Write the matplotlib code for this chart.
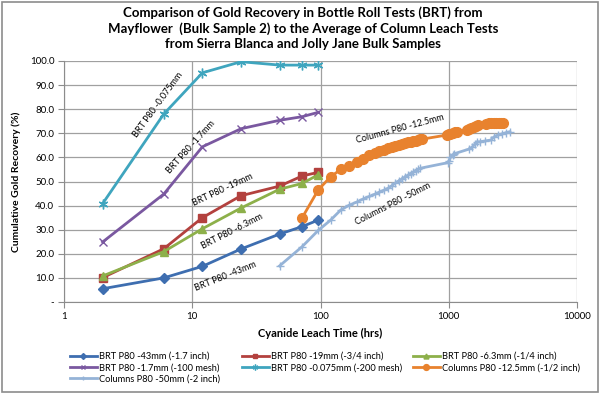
import numpy as np
import matplotlib
matplotlib.use("Agg")
import matplotlib.pyplot as plt
from matplotlib.patches import Rectangle
from matplotlib.ticker import FixedLocator, FuncFormatter, NullLocator

plt.rcParams['font.family'] = ['Lato', 'DejaVu Sans']

# --- Data ---
brt_hours = [2, 6, 12, 24, 48, 72, 96]
brt_43mm = [5.5, 10.0, 14.8, 22.0, 28.2, 31.3, 34.0]
brt_19mm = [10.1, 22.1, 35.0, 44.1, 48.1, 52.3, 53.8]
brt_6mm = [10.8, 20.9, 30.4, 39.0, 46.8, 49.2, 52.8]
brt_1_7mm = [24.9, 44.8, 64.4, 71.9, 75.4, 76.9, 78.7]
brt_0075mm = [40.8, 78.0, 95.1, 99.7, 98.3, 98.3, 98.3]

col12_hours = [72, 96, 120, 144, 168, 192, 216, 240, 264, 288, 312, 336, 360, 384,
               408, 432, 456, 480, 504, 528, 552, 576, 600, 624,
               970, 1000, 1030, 1070, 1110, 1170,
               1400, 1450, 1500, 1560, 1620, 1680,
               1950, 2050, 2150, 2250, 2350, 2450, 2550, 2630]
col12_rec = [35.0, 46.5, 52.0, 55.0, 56.6, 58.0, 59.5, 60.8, 61.8, 62.6, 63.2, 63.8, 64.2, 64.6,
             65.0, 65.5, 66.0, 66.2, 66.4, 66.8, 67.0, 67.3, 67.5, 67.6,
             69.3, 69.6, 69.9, 70.2, 70.5, 70.7,
             71.5, 71.8, 72.3, 72.8, 73.2, 73.5,
             74.0, 74.2, 74.3, 74.4, 74.4, 74.4, 74.3, 74.2]

col50_hours = [48, 72, 96, 120, 144, 168, 192, 216, 240, 264, 288, 312, 336, 360, 384,
               408, 432, 456, 480, 504, 528, 552, 576, 600,
               980, 1000, 1030, 1070, 1100, 1450, 1530, 1600, 1660, 1750, 1900,
               2130, 2250, 2410, 2600, 2800, 3000]
col50_rec = [15.0, 23.0, 29.7, 34.0, 38.2, 40.2, 41.5, 42.8, 43.8, 44.7, 45.6, 46.4, 47.2, 48.3, 49.4,
             50.3, 51.1, 51.9, 52.6, 53.3, 53.9, 54.5, 55.0, 55.5,
             57.8, 58.5, 60.0, 61.0, 61.5, 63.5, 64.4, 65.5, 66.5, 66.5, 66.8,
             67.2, 68.5, 69.3, 69.8, 70.3, 70.7]

labels = ["BRT P80 -43mm (-1.7 inch)", "BRT P80 -19mm (-3/4 inch)", "BRT P80 -6.3mm (-1/4 inch)",
          "BRT P80 -1.7mm (-100 mesh)", "BRT P80 -0.075mm (-200 mesh)",
          "Columns P80 -12.5mm (-1/2 inch)", "Columns P80 -50mm (-2 inch)"]

x_ticks = [1, 10, 100, 1000, 10000]
y_ticks = [0, 10, 20, 30, 40, 50, 60, 70, 80, 90, 100]

# --- Figure ---
fig = plt.figure(figsize=(6.0, 3.94), dpi=100)
ax = fig.add_axes([64/600, 1-302/394, 513/600, 241/394])

lw = 2.0
h = {}
h[6], = ax.plot(col50_hours, col50_rec, color='#95B3D7', lw=lw, marker='+', ms=6, mew=1.0, zorder=3)
h[5], = ax.plot(col12_hours, col12_rec, color='#E8822E', lw=lw, marker='o', ms=7, zorder=3)
h[0], = ax.plot(brt_hours, brt_43mm, color='#3E6EB0', lw=lw, marker='D', ms=5, zorder=4)
h[1], = ax.plot(brt_hours, brt_19mm, color='#B3413E', lw=lw, marker='s', ms=6, zorder=4)
h[2], = ax.plot(brt_hours, brt_6mm, color='#8DB04A', lw=lw, marker='^', ms=6, zorder=4)
h[3], = ax.plot(brt_hours, brt_1_7mm, color='#7A58A0', lw=lw, marker='x', ms=6, mew=1.0, zorder=4)
h[4], = ax.plot(brt_hours, brt_0075mm, color='#3FA5BE', lw=lw, marker=(6, 2, 0), ms=7, mew=1.0, zorder=4)

ax.set_xscale('log')
ax.set_xlim(1, 10000)
ax.set_ylim(0, 100)
ax.xaxis.set_major_locator(FixedLocator(x_ticks))
ax.xaxis.set_minor_locator(NullLocator())
ax.xaxis.set_major_formatter(FuncFormatter(lambda v, p: f"{int(v)}"))
ax.yaxis.set_major_locator(FixedLocator(y_ticks))
ax.yaxis.set_major_formatter(FuncFormatter(lambda v, p: "-" if v == 0 else f"{v:.1f}"))
ax.grid(True, color='#A0A0A0', lw=0.9)
ax.set_axisbelow(True)
for s in ['top', 'right']:
    ax.spines[s].set_visible(False)
for s in ['left', 'bottom']:
    ax.spines[s].set_color('#8C8C8C')
ax.tick_params(length=4, width=0.8, color='#8C8C8C', labelsize=7, pad=3)

ax.set_xlabel("Cyanide Leach Time (hrs)", fontsize=8, fontweight='bold', labelpad=5)
ax.set_ylabel("Cumulative Gold Recovery (%)", fontsize=7.5, fontweight='bold', labelpad=6)

fig.suptitle("Comparison of Gold Recovery in Bottle Roll Tests (BRT) from\n"
             "Mayflower  (Bulk Sample 2) to the Average of Column Leach Tests\n"
             "from Sierra Blanca and Jolly Jane Bulk Samples",
             x=0.505, y=0.985, fontsize=9.5, fontweight='bold', linespacing=1.35)

# --- In-plot series labels ---
annot = [("BRT P80 -0.075mm", 5.4, 82.0, 54),
         ("BRT P80 -1.7mm", 9.8, 64.3, 48),
         ("BRT P80 -19mm", 17.4, 46.5, 25),
         ("BRT P80 -6.3mm", 20.4, 29.5, 27),
         ("BRT P80 -43mm", 18.3, 10.8, 22),
         ("Columns P80 -12.5mm", 420, 72.0, 15),
         ("Columns P80 -50mm", 370, 40.7, 27)]
for txt, xv, yv, rot in annot:
    ax.text(xv, yv, txt, fontsize=6.5, rotation=rot, ha='center', va='center', zorder=5)

# --- Legend: three columns filled row by row ---
legend_cols = [[0, 3, 6], [1, 4], [2, 5]]
legend_x = [70, 242, 413]
for idxs, lx in zip(legend_cols, legend_x):
    fig.legend([h[i] for i in idxs], [labels[i] for i in idxs], loc='upper left',
               bbox_to_anchor=(lx/600, 1-352/394), frameon=False, fontsize=6.7,
               handlelength=2.9, handletextpad=0.25, labelspacing=0.25,
               borderpad=0, borderaxespad=0, markerscale=0.6)

fig.patches.append(Rectangle((0.003, 0.004), 0.994, 0.992, transform=fig.transFigure,
                             fill=False, edgecolor='#8C8C8C', lw=1.2))

fig.savefig("out.png", dpi=100)
